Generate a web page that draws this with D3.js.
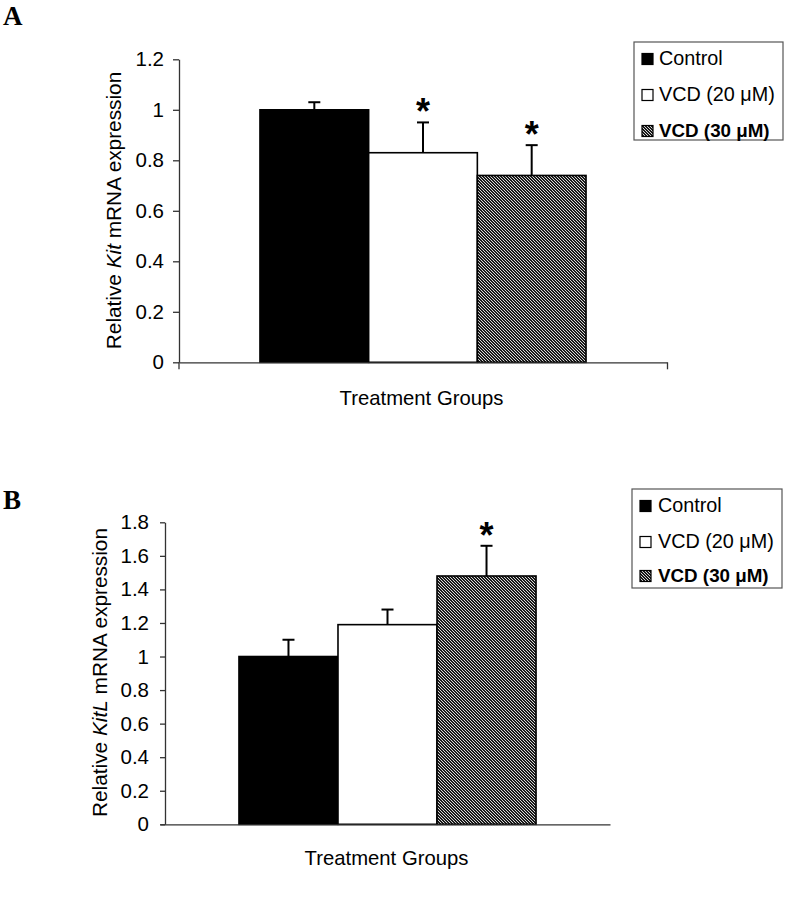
<!DOCTYPE html>
<html>
<head>
<meta charset="utf-8">
<script src="https://cdnjs.cloudflare.com/ajax/libs/d3/7.8.5/d3.min.js"></script>
<style>
  html, body { margin: 0; padding: 0; background: #fff; }
  svg { display: block; }
  text { font-family: "Liberation Sans", Arial, sans-serif; fill: #000; }
</style>
</head>
<body>
<svg id="chart" width="787" height="899"></svg>
<script>
// ---------- data ----------
const categories = ["Control", "VCD (20 μM)", "VCD (30 μM)"];
const legendBold = [false, false, true];
const fills = ["black", "white", "hatch"];

const kitValues = [1.0, 0.83, 0.74];
const kitErrors = [0.03, 0.12, 0.12];
const kitSignificant = [false, true, true];
const kitTicks = [0, 0.2, 0.4, 0.6, 0.8, 1, 1.2];

const kitlValues = [1.0, 1.19, 1.48];
const kitlErrors = [0.10, 0.09, 0.18];
const kitlSignificant = [false, false, true];
const kitlTicks = [0, 0.2, 0.4, 0.6, 0.8, 1, 1.2, 1.4, 1.6, 1.8];

const xAxisTitle = "Treatment Groups";

// ---------- drawing ----------
const svg = d3.select("#chart");
const defs = svg.append("defs");
const pat = defs.append("pattern")
  .attr("id", "hatch").attr("patternUnits", "userSpaceOnUse")
  .attr("width", 3).attr("height", 3);
pat.append("rect").attr("width", 3).attr("height", 3).attr("fill", "#d8d8d8");
[[0,0],[1,0],[1,1],[2,1],[2,2],[0,2]].forEach(([x, y]) => {
  pat.append("rect").attr("x", x).attr("y", y).attr("width", 1).attr("height", 1)
    .attr("fill", "#1a1a1a").attr("shape-rendering", "crispEdges");
});
const fillOf = f => f === "hatch" ? "url(#hatch)" : f;

function panel(opts) {
  const g = svg.append("g");
  const y = d3.scaleLinear().domain([0, opts.ticks[opts.ticks.length - 1]]).range([opts.y0, opts.y1]);
  const x = d3.scaleBand().domain(categories).range([opts.xa, opts.xb])
    .paddingInner(0).paddingOuter(opts.pad);

  // panel letter
  g.append("text").attr("x", opts.letterX).attr("y", opts.letterY)
    .style("font-family", "'Liberation Serif', 'Times New Roman', serif")
    .style("font-weight", "bold").style("font-size", "27px").text(opts.letter);

  // y axis
  const yAxis = d3.axisLeft(y).tickValues(opts.ticks).tickSize(opts.tickLen)
    .tickPadding(opts.tickPad).tickSizeOuter(0).tickFormat(d3.format("~g"));
  const ya = g.append("g").attr("transform", `translate(${opts.xa},0)`).call(yAxis);
  ya.selectAll("path.domain").attr("stroke", "#333").attr("stroke-width", 1.3);
  ya.selectAll(".tick line").attr("stroke", "#333").attr("stroke-width", 1.3);
  ya.selectAll(".tick text").style("font-size", "20.5px")
    .style("font-family", "'Liberation Sans', Arial, sans-serif").attr("fill", "#000");

  // y title
  const t = g.append("text")
    .attr("transform", `translate(${opts.titleX},${opts.titleY}) rotate(-90)`)
    .attr("text-anchor", "middle").style("font-size", "20.8px");
  t.append("tspan").text("Relative ");
  t.append("tspan").style("font-style", "italic").text(opts.gene);
  t.append("tspan").text(opts.geneGap + "mRNA expression");

  // bars
  g.selectAll("rect.bar").data(opts.values).join("rect")
    .attr("class", "bar")
    .attr("x", (d, i) => x(categories[i]))
    .attr("width", x.bandwidth())
    .attr("y", d => y(d))
    .attr("height", d => y(0) - y(d))
    .attr("fill", (d, i) => fillOf(fills[i]))
    .attr("stroke", "#000").attr("stroke-width", 1.6);

  // error bars (upper only)
  const capW = 6;
  opts.values.forEach((v, i) => {
    const cx = x(categories[i]) + x.bandwidth() / 2;
    const top = y(v + opts.errors[i]);
    g.append("line").attr("x1", cx).attr("x2", cx).attr("y1", y(v)).attr("y2", top)
      .attr("stroke", "#000").attr("stroke-width", 2);
    g.append("line").attr("x1", cx - capW).attr("x2", cx + capW).attr("y1", top).attr("y2", top)
      .attr("stroke", "#000").attr("stroke-width", 2);
    if (opts.sig[i]) {
      g.append("text").attr("x", cx).attr("y", top - 19 + 0.58 * 36)
        .attr("text-anchor", "middle").style("font-size", "36px").style("font-weight", "bold")
        .text("*");
    }
  });

  // x axis (category axis with boundary ticks)
  const xe = d3.scaleLinear().domain([0, 1]).range([opts.xAxisStart, opts.xb]);
  const xAxis = d3.axisBottom(xe).tickValues(opts.endTicks ? [0, 1] : [])
    .tickSize(7).tickSizeOuter(0).tickFormat("");
  const xa = g.append("g").attr("transform", `translate(0,${opts.y0})`).call(xAxis);
  xa.selectAll("path.domain").attr("stroke", "#333").attr("stroke-width", 1.3);
  xa.selectAll(".tick line").attr("stroke", "#333").attr("stroke-width", 1.3);
  if (opts.endTicks) xa.selectAll(".tick").filter((d, i) => i === 0)
    .attr("transform", `translate(${opts.xa},0)`);

  g.append("text").attr("x", opts.xTitleX).attr("y", opts.xTitleY)
    .attr("text-anchor", "middle").style("font-size", "20.3px").text(xAxisTitle);

  // legend
  const L = opts.legend;
  g.append("rect").attr("x", L.x).attr("y", L.y).attr("width", L.w).attr("height", L.h)
    .attr("fill", "white").attr("stroke", "#555").attr("stroke-width", 1.2);
  categories.forEach((c, i) => {
    const by = L.base[i];
    g.append("rect").attr("x", L.sx).attr("y", by - 11.5).attr("width", 11).attr("height", 11)
      .attr("fill", fillOf(fills[i])).attr("stroke", "#000").attr("stroke-width", 1.2);
    g.append("text").attr("x", L.tx).attr("y", by).style("font-size", legendBold[i] ? "18.8px" : "19.8px")
      .style("font-weight", legendBold[i] ? "bold" : "normal").text(c);
  });
}

panel({
  letter: "A", letterX: 3, letterY: 25,
  values: kitValues, errors: kitErrors, sig: kitSignificant, ticks: kitTicks,
  y0: 362.3, y1: 59.3, xa: 179, xb: 667, xAxisStart: 179, pad: 0.745, endTicks: true,
  tickLen: 6, tickPad: 9,
  gene: "Kit", geneGap: " ", titleX: 121, titleY: 210.5,
  xTitleX: 421.5, xTitleY: 405,
  legend: { x: 634, y: 42, w: 149, h: 98, sx: 642, tx: 659, base: [65, 101, 137] }
});

panel({
  letter: "B", letterX: 3, letterY: 509,
  values: kitlValues, errors: kitlErrors, sig: kitlSignificant, ticks: kitlTicks,
  y0: 824.3, y1: 522.3, xa: 165, xb: 610, xAxisStart: 160, pad: 0.747, endTicks: false,
  tickLen: 5, tickPad: 11,
  gene: "KitL", geneGap: "  ", titleX: 107, titleY: 672.5,
  xTitleX: 386.5, xTitleY: 865,
  legend: { x: 632, y: 489, w: 150, h: 99, sx: 640, tx: 658, base: [512, 548, 582] }
});
</script>
</body>
</html>
